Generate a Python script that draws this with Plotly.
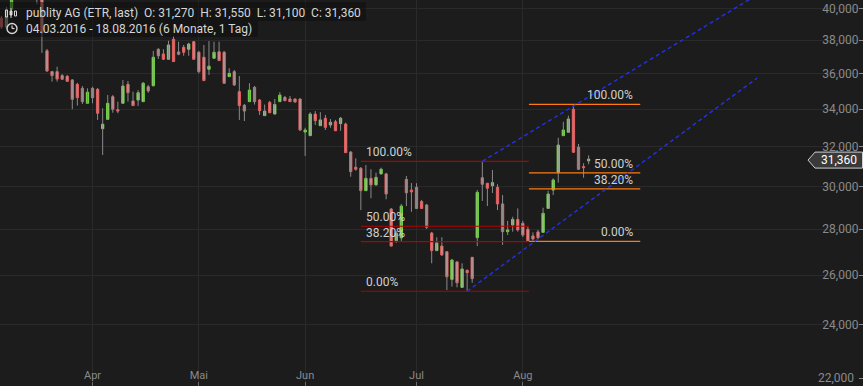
import numpy as np
import pandas as pd
import plotly.graph_objects as go

# ---------------- data ----------------
dates = pd.bdate_range("2016-03-04", "2016-08-18")
dates = dates.drop(pd.to_datetime(["2016-03-25", "2016-03-28", "2016-05-16"]))

open_ = [39390, 38820, 39950, 41000, 41600, 42100, 41700, 41200, 40700, 37360,
         36120, 36120, 35890, 35850, 35640, 35390, 35160, 34320, 35160, 35100,
         32940, 33440, 34690, 33970, 34320, 35390, 34450, 34500, 34410, 35250,
         35310, 37450, 37170, 36850, 38060, 37290, 37570, 37450, 37910, 37270,
         36970, 36260, 36910, 37300, 37270, 35830, 36120, 34970, 34210, 34410,
         35220, 34500, 33640, 34370, 33730, 34410, 34650, 34560, 34560, 34560,
         32760, 32570, 33730, 33100, 33500, 33140, 33310, 33210, 33190, 31720,
         30950, 30900, 29800, 30400, 30080, 30620, 30620, 28930, 27490, 27610,
         30350, 29830, 29960, 29280, 29120, 27830, 27050, 27250, 27000, 25820,
         26560, 25490, 26200, 26760, 27620, 30430, 30160, 30040, 29960, 29170,
         27890, 28190, 28450, 28270, 28000, 27700, 27880, 27860, 28960, 29830,
         30680, 32570, 32750, 33990, 31970, 30980, 31270]
high = [39520, 40100, 41100, 41800, 42400, 42600, 42000, 41500, 41000, 37470,
        36160, 36410, 35980, 35930, 35690, 35470, 35290, 35160, 35250, 35180,
        34040, 34780, 34780, 34410, 35640, 35580, 34970, 35060, 35520, 35350,
        37350, 37510, 37450, 37970, 38260, 37910, 37710, 37850, 37950, 37350,
        37710, 37950, 37910, 37910, 37350, 36320, 36220, 35870, 34280, 35450,
        35290, 34560, 34250, 34450, 34560, 34940, 34730, 34730, 34590, 34590,
        32990, 33830, 33890, 33830, 33680, 33460, 33410, 33570, 33260, 31770,
        31400, 30960, 31060, 30850, 30680, 30930, 30670, 28980, 27920, 29170,
        30520, 30170, 30160, 29360, 29170, 27880, 27640, 27640, 27030, 26690,
        26600, 26500, 26240, 26770, 29830, 31250, 30170, 30810, 30110, 29590,
        28380, 28570, 28960, 28380, 28120, 27860, 27970, 28990, 29800, 30400,
        32460, 33310, 33640, 34265, 32140, 31150, 31550]
low = [38700, 38700, 39800, 40800, 41400, 41500, 40900, 40270, 37230, 36100,
       35540, 35540, 35640, 35520, 33990, 34190, 34280, 34280, 34320, 33410,
       31570, 33410, 33800, 33770, 34280, 34410, 34170, 34170, 34390, 34910,
       35260, 36870, 36810, 36810, 36690, 37090, 37060, 37060, 36810, 36020,
       35580, 35930, 36890, 36750, 35410, 35810, 35290, 33410, 33350, 34390,
       34250, 33680, 33620, 33780, 33700, 34390, 34450, 34390, 34350, 32820,
       31520, 32550, 33140, 33080, 32870, 32990, 32820, 32830, 31670, 30480,
       30780, 28880, 29790, 29440, 30050, 30590, 29390, 27230, 27390, 27430,
       29070, 28800, 28930, 28930, 28010, 26500, 27030, 26820, 25380, 25520,
       25490, 25470, 25330, 25680, 27250, 29310, 29070, 29690, 28880, 27300,
       27740, 27890, 27890, 27650, 27460, 27500, 27560, 27830, 28930, 29590,
       30190, 32550, 32710, 31670, 30810, 30430, 31100]
close = [38820, 39900, 40900, 41600, 42100, 41700, 41200, 40700, 38450, 36160,
         35890, 35690, 35680, 35560, 34540, 34630, 34410, 34940, 34630, 33770,
         33180, 34320, 33990, 33890, 35290, 34910, 34190, 34910, 35450, 35010,
         36970, 37060, 36850, 37710, 36710, 37150, 37270, 37770, 36850, 36120,
         35600, 36440, 37270, 36770, 35450, 36020, 35350, 34190, 33890, 35060,
         34410, 33910, 33890, 33800, 34250, 34780, 34460, 34410, 34390, 32870,
         32870, 33730, 33370, 33410, 33010, 33280, 32830, 33500, 31690, 30730,
         30850, 29800, 30400, 30080, 30450, 30850, 29640, 27250, 27830, 29070,
         29700, 29740, 28960, 28960, 28090, 27050, 27390, 26860, 25930, 26640,
         25680, 26260, 26100, 25850, 29720, 30110, 29920, 30190, 29170, 27890,
         27970, 28450, 27970, 27740, 27470, 27560, 27620, 28730, 29640, 30320,
         32080, 32870, 33460, 31710, 30850, 30930, 31360]

month_labels = ["Apr", "Mai", "Jun", "Jul", "Aug"]
y_tick_values = [22000, 24000, 26000, 28000, 30000, 32000, 34000, 36000, 38000, 40000]
y_tick_text = ["22,000", "24,000", "26,000", "28,000", "30,000",
               "32,000", "34,000", "36,000", "38,000", "40,000"]

fib_ratios = [1.0, 0.5, 0.382, 0.0]
fib_labels = ["100.00%", "50.00%", "38.20%", "0.00%"]
fib_left = dict(low=25330, high=31250, x0=71.0, x1=104.2)
fib_right = dict(low=27460, high=34265, x0=104.2, x1=126.2)

trend_lower_x = [92, 149.3]
trend_lower_y = [25330, 35750]
trend_upper_x = [95, 149.3]
trend_upper_y = [31250, 40900]

last_price = 31360
title_line1 = ("publity AG (ETR, last)\u00a0\u00a0O: 31,270\u00a0\u00a0H: 31,550"
               "\u00a0\u00a0L: 31,100\u00a0\u00a0C: 31,360")
title_line2 = "04.03.2016 - 18.08.2016 (6 Monate, 1 Tag)"

# ---------------- layout helpers ----------------
W, H = 863, 386
BG = "#1c1c1c"
FONT = "Roboto"
XR = [-0.28, 170.2]
YR_LIN = [21735, 40553]
yr = [np.log10(v) for v in YR_LIN]


def pxx(px):
    return px / W


def pxy(py):
    return 1 - py / H


def price_py(p):
    return (yr[1] - np.log10(p)) / (yr[1] - yr[0]) * H


n = len(dates)
x = np.arange(n)
o = np.array(open_, float)
c = np.array(close, float)
hi = np.array(high, float)
lo = np.array(low, float)

month_ticks = [int(np.argmax(dates.month == m)) for m in [4, 5, 6, 7, 8]]

fig = go.Figure()

# wicks
wx, wy = [], []
for i in range(n):
    wx += [i, i, None]
    wy += [lo[i], hi[i], None]
fig.add_trace(go.Scatter(x=wx, y=wy, mode="lines",
                         line=dict(color="#8a8a8a", width=1),
                         hoverinfo="skip", showlegend=False))

# bodies
fig.add_trace(go.Candlestick(
    x=x, open=o, close=c, high=np.maximum(o, c), low=np.minimum(o, c),
    increasing=dict(line=dict(color="#6fd440", width=1), fillcolor="#b8f592"),
    decreasing=dict(line=dict(color="#e05c5c", width=1), fillcolor="#ffa6a6"),
    whiskerwidth=0, hoverinfo="skip", showlegend=False))

annotations = []
# fibonacci groups
for grp, color, side in [(fib_left, "#b40000", "left"), (fib_right, "#ff7a10", "right")]:
    lnl, lnh = np.log(grp["low"]), np.log(grp["high"])
    for r, lab in zip(fib_ratios, fib_labels):
        lvl = float(np.exp(lnl + r * (lnh - lnl)))
        fig.add_trace(go.Scatter(x=[grp["x0"], grp["x1"]], y=[lvl, lvl], mode="lines",
                                 line=dict(color=color, width=1.2),
                                 hoverinfo="skip", showlegend=False))
        if side == "left":
            annotations.append(dict(x=grp["x0"], y=np.log10(lvl), xref="x", yref="y",
                                    text=lab, showarrow=False, xanchor="left",
                                    yanchor="bottom", xshift=3, yshift=0,
                                    font=dict(family=FONT, size=12, color="#d0d0d0")))
        else:
            annotations.append(dict(x=grp["x1"], y=np.log10(lvl), xref="x", yref="y",
                                    text=lab, showarrow=False, xanchor="right",
                                    yanchor="bottom", xshift=-5, yshift=0,
                                    font=dict(family=FONT, size=12, color="#d0d0d0")))

# trend lines
for tx, ty in [(trend_lower_x, trend_lower_y), (trend_upper_x, trend_upper_y)]:
    fig.add_trace(go.Scatter(x=tx, y=ty, mode="lines",
                             line=dict(color="#2233e0", width=1.4, dash="4px,3px"),
                             hoverinfo="skip", showlegend=False))

shapes = []
# title boxes
shapes.append(dict(type="rect", xref="paper", yref="paper", x0=pxx(0), x1=pxx(366),
                   y0=pxy(21), y1=pxy(2), fillcolor="rgba(14,14,14,0.55)",
                   line=dict(width=0), layer="above"))
shapes.append(dict(type="rect", xref="paper", yref="paper", x0=pxx(0), x1=pxx(258),
                   y0=pxy(37), y1=pxy(21), fillcolor="rgba(14,14,14,0.55)",
                   line=dict(width=0), layer="above"))
icol = "#d6d6d6"
# chart icon
shapes.append(dict(type="rect", xref="paper", yref="paper", x0=pxx(5.5), x1=pxx(7.5),
                   y0=pxy(17), y1=pxy(10), line=dict(color=icol, width=1), layer="above"))
shapes.append(dict(type="line", xref="paper", yref="paper", x0=pxx(11), x1=pxx(11),
                   y0=pxy(18), y1=pxy(8), line=dict(color=icol, width=1), layer="above"))
shapes.append(dict(type="rect", xref="paper", yref="paper", x0=pxx(10), x1=pxx(12),
                   y0=pxy(15), y1=pxy(11), line=dict(color=icol, width=1),
                   fillcolor=icol, layer="above"))
shapes.append(dict(type="rect", xref="paper", yref="paper", x0=pxx(14.5), x1=pxx(16.5),
                   y0=pxy(16), y1=pxy(11), line=dict(color=icol, width=1), layer="above"))
# clock icon
shapes.append(dict(type="circle", xref="paper", yref="paper", x0=pxx(7), x1=pxx(17),
                   y0=pxy(33.5), y1=pxy(23.5), line=dict(color=icol, width=1.4), layer="above"))
shapes.append(dict(type="line", xref="paper", yref="paper", x0=pxx(12), x1=pxx(12),
                   y0=pxy(28.5), y1=pxy(25.5), line=dict(color=icol, width=1.2), layer="above"))
shapes.append(dict(type="line", xref="paper", yref="paper", x0=pxx(12), x1=pxx(14.5),
                   y0=pxy(28.5), y1=pxy(28.5), line=dict(color=icol, width=1.2), layer="above"))

# bottom tick label/mark that plotly hides at the plot edge
y_bottom = y_tick_values[0]
yb = price_py(y_bottom)
shapes.append(dict(type="line", xref="paper", yref="paper", x0=pxx(859), x1=pxx(863),
                   y0=pxy(yb), y1=pxy(yb), line=dict(color="#8a8a8a", width=1), layer="above"))
annotations.append(dict(x=pxx(856), y=pxy(yb), xref="paper", yref="paper",
                        text=y_tick_text[0], showarrow=False, xanchor="right",
                        yanchor="middle", font=dict(family=FONT, size=12, color="#8a8a8a")))

# last price tag
cy = price_py(last_price) + 1
path = (f"M {pxx(808)},{pxy(cy)} L {pxx(815)},{pxy(cy - 8)} L {pxx(862.5)},{pxy(cy - 8)} "
        f"L {pxx(862.5)},{pxy(cy + 8)} L {pxx(815)},{pxy(cy + 8)} Z")
shapes.append(dict(type="path", xref="paper", yref="paper", path=path,
                   fillcolor="#3a3a3a", line=dict(color="#cfcfcf", width=1), layer="above"))
annotations.append(dict(x=pxx(839), y=pxy(cy), xref="paper", yref="paper",
                        text=f"{last_price:,}", showarrow=False, xanchor="center",
                        yanchor="middle", font=dict(family=FONT, size=12, color="#ffffff")))

# titles
annotations.append(dict(x=pxx(24), y=pxy(12.5), xref="paper", yref="paper", text=title_line1,
                        showarrow=False, xanchor="left", yanchor="middle",
                        font=dict(family=FONT, size=12, color="#d6d6d6")))
annotations.append(dict(x=pxx(24), y=pxy(28.5), xref="paper", yref="paper", text=title_line2,
                        showarrow=False, xanchor="left", yanchor="middle",
                        font=dict(family=FONT, size=12, color="#d6d6d6")))

fig.update_layout(
    width=W, height=H, margin=dict(l=0, r=0, t=0, b=0),
    paper_bgcolor=BG, plot_bgcolor=BG, showlegend=False,
    font=dict(family=FONT, size=11, color="#8a8a8a"),
    boxgap=0.35,
    xaxis=dict(range=XR, tickmode="array", tickvals=month_ticks, ticktext=month_labels,
               ticks="inside", ticklen=4, tickcolor="#6a6a6a",
               ticklabelposition="inside", showgrid=True, gridcolor="#2a2a2a",
               zeroline=False, showline=False, rangeslider=dict(visible=False),
               tickfont=dict(family=FONT, size=11, color="#8a8a8a")),
    yaxis=dict(type="log", range=yr, side="right", tickmode="array",
               tickvals=y_tick_values, ticktext=y_tick_text,
               ticks="inside", ticklen=4, tickcolor="#8a8a8a",
               ticklabelposition="inside", showgrid=True, gridcolor="#2a2a2a",
               zeroline=False, showline=False,
               tickfont=dict(family=FONT, size=12, color="#8a8a8a")),
    shapes=shapes, annotations=annotations,
)

fig.write_html("out.html")
